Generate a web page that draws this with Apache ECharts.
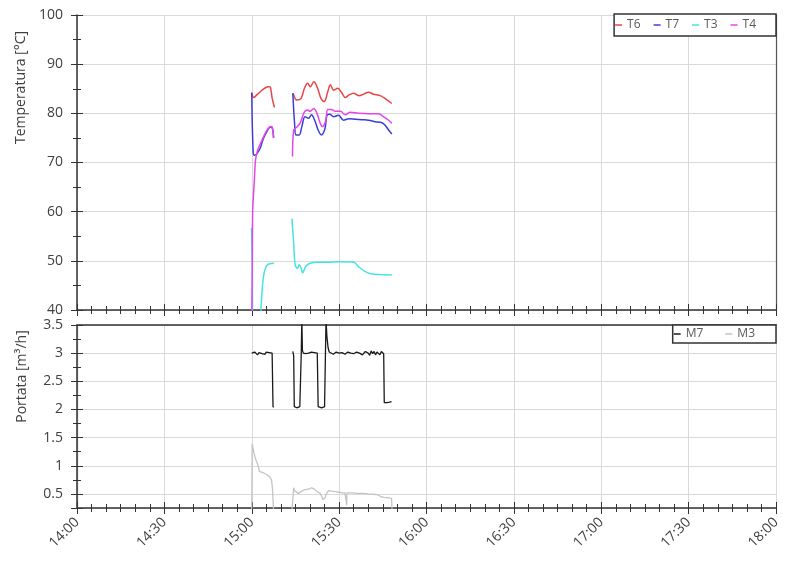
<!DOCTYPE html>
<html>
<head>
<meta charset="utf-8">
<script src="https://cdn.jsdelivr.net/npm/echarts@6/dist/echarts.min.js"></script>
<style>html,body{margin:0;padding:0;background:#fff}#c{width:792px;height:563px}</style>
</head>
<body>
<div id="c"></div>
<script>
// time values are minutes after 14:00
const t6Time = [60.0,60.7,61.5,62.4,63.5,64.7,65.8,66.4,67.0,67.8, 70, 74.2,75.5,76.9,78.1,79.2,80.1,81.3,82.6,83.8,84.9,86.1,87.0,88.1,89.5,91.0,92.1,93.3,95.0,96.7,98.4,100.1,101.8,104.1,105.8,108.1];
const t6Val  = [84.2,83.2,83.6,84.1,84.7,85.2,85.4,85.3,83.1,81.2, null, 84.1,82.7,83.0,85.1,86.1,85.4,86.4,85.1,83.0,82.4,84.4,85.8,84.7,85.1,84.1,83.2,83.7,84.1,83.6,83.9,84.3,83.9,83.6,83.0,82.0];

const t7Time = [60.0,60.5,61.0,61.8,62.9,64.0,65.2,66.4,67.0,67.5, 70, 74.1,74.7,75.2,76.3,77.2,78.3,79.5,80.5,81.6,82.8,83.9,85.1,85.9,86.8,88.1,89.8,91.5,93.3,95.6,97.8,100.1,102.4,104.7,105.8,107.0,108.1];
const t7Val  = [84.2,72.0,71.5,71.8,72.9,74.9,76.3,77.2,77.1,75.0, null, 84.1,78.0,75.6,75.6,77.3,79.3,79.0,79.7,78.6,76.6,75.6,76.8,79.7,79.8,79.3,79.6,78.6,78.9,78.8,78.7,78.6,78.3,78.1,77.6,76.6,75.8];

const t3Time = [59.9,60.2,60.4,63.1,63.2,63.5,64.1,64.9,66.0,67.6, 70, 73.8,74.4,74.9,75.7,76.3,76.9,77.5,78.5,80.0,83.0,86.4,90.0,95.0,96.7,99.0,101.3,104.0,108.1];
const t3Val  = [56.7,48.0,38.0,38.0,40.5,43.4,47.1,48.8,49.4,49.5, null, 58.6,53.6,49.2,48.5,49.2,48.6,47.6,48.8,49.5,49.7,49.7,49.8,49.7,48.8,47.8,47.3,47.2,47.1];

const t4Time = [60.0,60.2,60.3,60.6,60.9,61.3,62.0,62.5,63.5,64.5,65.5,66.4,67.0,67.5, 70, 74.0,74.4,75.5,76.6,78.1,79.2,80.0,81.3,82.4,83.5,84.3,85.4,86.1,87.3,88.8,90.5,92.1,93.8,96.7,100.1,103.5,105.3,107.0,108.1];
const t4Val  = [38.0,50.0,59.7,63.5,66.4,70.5,72.5,73.2,74.5,75.8,76.8,77.3,77.2,75.0, null, 71.2,76.6,77.2,78.0,80.3,80.7,80.4,81.0,80.0,78.0,77.3,78.5,80.8,80.8,80.4,80.4,79.7,80.2,80.0,79.9,79.9,79.3,78.6,78.0];

const m7Time = [60.0,60.5,61.0,61.5,62.0,62.5,63.0,63.5,64.0,64.5,65.0,65.5,66.0,66.5,67.0,67.3,67.6, 70,
  74.1,74.4,74.6,75.0,75.5,76.0,76.5,76.8,77.0,77.2,77.4,77.7,78.0,78.5,79.0,79.5,80.0,80.5,81.0,81.5,82.0,82.5,82.8,83.3,84.0,84.5,85.0,85.3,85.5,85.8,86.2,86.6,87.0,
  88.0,89.0,90.0,91.0,92.0,93.0,94.0,95.0,96.0,97.0,98.0,99.0,100.0,100.5,101.0,101.5,102.0,102.5,103.0,103.5,104.0,104.5,105.0,105.3,105.5,105.8,106.5,107.3,108.0];
const m7Val  = [3.00,2.98,3.02,3.00,2.97,3.01,3.03,2.99,3.00,2.98,3.02,3.00,3.01,2.99,3.00,2.05,2.04, null,
  3.03,2.95,2.05,2.04,2.03,2.04,2.05,2.08,3.00,3.60,3.05,3.00,3.02,2.99,3.01,3.00,2.98,3.02,3.00,3.01,2.99,3.00,2.05,2.04,2.03,2.04,2.05,2.07,3.60,3.30,3.10,3.02,3.00,
  2.98,3.02,3.00,3.01,2.98,3.02,3.00,2.99,3.02,3.00,2.97,3.03,3.00,2.96,3.04,2.99,3.03,2.97,3.02,3.05,2.97,3.03,3.00,2.99,2.12,2.10,2.12,2.13,2.14];

const m3Time = [60.0,60.15,60.4,60.8,61.3,61.8,62.3,62.6,63.2,63.8,64.4,65.0,65.6,66.2,66.8,67.1,67.5, 70,
  73.8,74.4,74.8,75.4,76.0,76.6,77.2,78.0,78.9,79.7,80.6,81.3,82.0,82.8,83.5,84.1,84.4,85.2,85.6,86.4,87.5,88.7,90.0,91.0,92.0,92.5,92.6,92.7,94.5,96.0,98.0,100.0,102.6,103.5,104.3,105.5,107.2,108.0,108.2];
const m3Val  = [0.20,1.39,1.32,1.22,1.12,1.06,0.98,0.90,0.89,0.88,0.86,0.85,0.83,0.80,0.75,0.60,0.20, null,
  0.20,0.61,0.55,0.53,0.51,0.53,0.55,0.57,0.58,0.59,0.61,0.59,0.56,0.53,0.51,0.45,0.40,0.43,0.50,0.56,0.55,0.54,0.53,0.52,0.52,0.52,0.30,0.52,0.52,0.51,0.51,0.50,0.49,0.48,0.45,0.44,0.43,0.42,0.20];

const xTickLabels = ['14:00','14:30','15:00','15:30','16:00','16:30','17:00','17:30','18:00'];

const zip = (a, b) => a.map((t, i) => [t, b[i]]);
const FONT = 'Open Sans';
const LBL = '#404040';
const AX = '#333';
const GRID = '#d9d9d9';

function xAx(grid, opts) {
  return Object.assign({
    type: 'value', gridIndex: grid, min: 0, max: 240, interval: 30, position: 'bottom',
    axisLine: { show: false }, axisTick: { show: false }, axisLabel: { show: false },
    splitLine: { show: false }, minorTick: { show: false }
  }, opts);
}
const tickStyle = { color: AX, width: 1 };
const xMain = (grid, labels) => xAx(grid, {
  axisLine: { show: true, onZero: false, lineStyle: { color: AX, width: 1.5 } },
  axisTick: { show: true, length: 6, lineStyle: tickStyle },
  minorTick: { show: true, splitNumber: 6, length: 4, lineStyle: tickStyle },
  splitLine: { show: true, lineStyle: { color: GRID, width: 1 } },
  axisLabel: labels ? {
    show: true, rotate: 45, margin: 12, fontSize: 14, fontFamily: FONT, color: LBL,
    formatter: v => xTickLabels[Math.round(v / 30)]
  } : { show: false }
});
const xInner = grid => xAx(grid, {
  axisTick: { show: true, inside: true, length: 6, lineStyle: tickStyle },
  minorTick: { show: true, splitNumber: 6, length: 4, lineStyle: tickStyle }
});

function yAx(grid, opts) {
  return Object.assign({
    type: 'value', gridIndex: grid, position: 'left',
    axisLine: { show: false }, axisTick: { show: false }, axisLabel: { show: false },
    splitLine: { show: false }, minorTick: { show: false }
  }, opts);
}

const option = {
  animation: false,
  backgroundColor: '#fff',
  textStyle: { fontFamily: FONT },
  grid: [
    { left: 77, right: 16, top: 15, height: 295 },
    { left: 77, right: 16, top: 325, height: 183 }
  ],
  legend: [
    { data: ['T6','T7','T3','T4'], right: 16, top: 14, orient: 'horizontal',
      icon: 'rect', itemWidth: 7, itemHeight: 1.5, itemGap: 13,
      padding: [5, 20, 5, 1], borderColor: AX, borderWidth: 1.5, backgroundColor: '#fff',
      textStyle: { fontSize: 12, color: '#595959', fontFamily: FONT } },
    { data: ['M7','M3'], right: 16, top: 325, orient: 'horizontal',
      icon: 'rect', itemWidth: 7, itemHeight: 1.5, itemGap: 22,
      padding: [3, 21, 3, 1], borderColor: AX, borderWidth: 1.5, backgroundColor: '#fff',
      textStyle: { fontSize: 12, color: '#595959', fontFamily: FONT } }
  ],
  xAxis: [
    xMain(0, false),
    xInner(0),
    xMain(1, true),
    xInner(1),
    xAx(1, { position: 'top', axisLine: { show: true, onZero: false, lineStyle: { color: AX, width: 1.5 } } })
  ],
  yAxis: [
    yAx(0, {
      min: 40, max: 100, interval: 10,
      name: 'Temperatura [°C]', nameLocation: 'middle', nameGap: 48,
      nameTextStyle: { fontSize: 14, color: LBL, fontFamily: FONT, padding: [0, 0, 0, 150] },
      axisLine: { show: true, lineStyle: { color: AX, width: 1.5 } },
      axisTick: { show: true, length: 6, lineStyle: tickStyle },
      minorTick: { show: true, splitNumber: 2, length: 4, lineStyle: tickStyle },
      axisLabel: { show: true, margin: 14, fontSize: 14, fontFamily: FONT, color: LBL },
      splitLine: { show: true, lineStyle: { color: GRID, width: 1 } }
    }),
    yAx(0, { min: 40, max: 100, interval: 10,
      axisTick: { show: true, inside: true, length: 6, lineStyle: tickStyle },
      minorTick: { show: true, splitNumber: 2, length: 4, lineStyle: tickStyle } }),
    yAx(0, { min: 40, max: 100, position: 'right', axisLine: { show: true, lineStyle: { color: '#555', width: 1.2 } } }),
    yAx(1, {
      min: 0.25, max: 3.5, splitNumber: 7,
      name: 'Portata [m³/h]', nameLocation: 'middle', nameGap: 48,
      nameTextStyle: { fontSize: 14, color: LBL, fontFamily: FONT, padding: [0, 0, 0, 80] },
      axisLine: { show: true, lineStyle: { color: AX, width: 1.5 } },
      axisTick: { show: true, length: 6, lineStyle: tickStyle },
      minorTick: { show: true, splitNumber: 2, length: 4, lineStyle: tickStyle },
      axisLabel: { show: true, margin: 14, fontSize: 14, fontFamily: FONT, color: LBL, showMinLabel: false },
      splitLine: { show: true, lineStyle: { color: GRID, width: 1 } }
    }),
    yAx(1, { min: 0.25, max: 3.5, splitNumber: 7,
      axisTick: { show: true, inside: true, length: 6, lineStyle: tickStyle },
      minorTick: { show: true, splitNumber: 2, length: 4, lineStyle: tickStyle } }),
    yAx(1, { min: 0.25, max: 3.5, position: 'right', axisLine: { show: true, lineStyle: { color: '#555', width: 1.2 } } })
  ],
  series: [
    { name: 'T6', type: 'line', xAxisIndex: 0, yAxisIndex: 0, data: zip(t6Time, t6Val), color: '#e84545', smooth: 0.35, showSymbol: false, lineStyle: { width: 1.5 } },
    { name: 'T7', type: 'line', xAxisIndex: 0, yAxisIndex: 0, data: zip(t7Time, t7Val), color: '#3c3cdc', smooth: 0.35, showSymbol: false, lineStyle: { width: 1.5 } },
    { name: 'T3', type: 'line', xAxisIndex: 0, yAxisIndex: 0, data: zip(t3Time, t3Val), color: '#45e3e6', smooth: 0.35, showSymbol: false, lineStyle: { width: 1.5 } },
    { name: 'T4', type: 'line', xAxisIndex: 0, yAxisIndex: 0, data: zip(t4Time, t4Val), color: '#e645e6', smooth: 0.35, showSymbol: false, lineStyle: { width: 1.5 } },
    { name: 'M7', type: 'line', xAxisIndex: 2, yAxisIndex: 3, data: zip(m7Time, m7Val), color: '#1a1a1a', showSymbol: false, lineStyle: { width: 1.3 } },
    { name: 'M3', type: 'line', xAxisIndex: 2, yAxisIndex: 3, data: zip(m3Time, m3Val), color: '#c4c4c4', showSymbol: false, lineStyle: { width: 1.3 } }
  ]
};
const chart = echarts.init(document.getElementById('c'), null, { renderer: 'canvas' });
chart.setOption(option);
</script>
</body>
</html>
